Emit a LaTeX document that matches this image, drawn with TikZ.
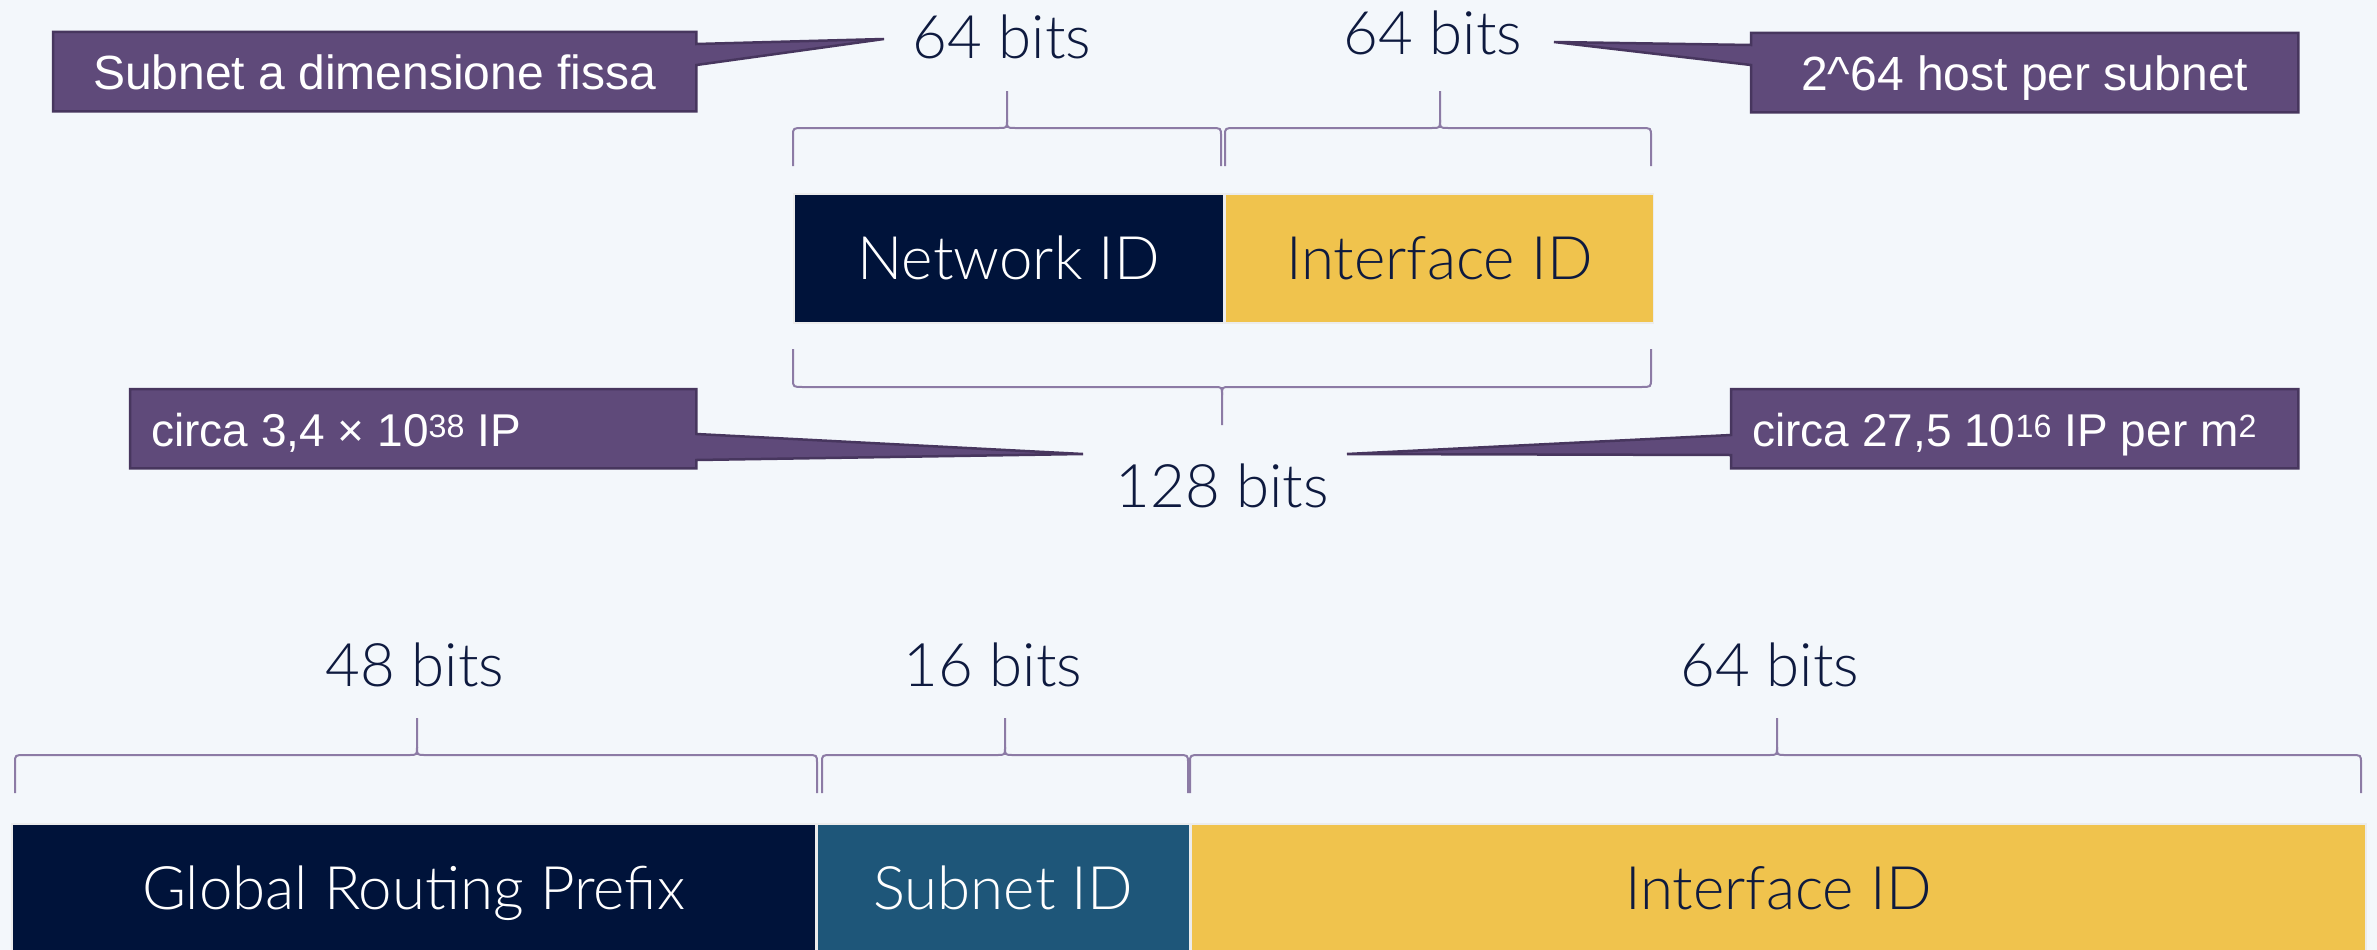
\documentclass[tikz,border=0pt]{standalone}
\usepackage{fontspec}
\setmainfont{Liberation Sans}
\newfontfamily\lightfont{Lato Light}
\usetikzlibrary{backgrounds}
\definecolor{bgc}{HTML}{F3F7FB}
\definecolor{navy}{HTML}{00133A}
\definecolor{gold}{HTML}{F0C34D}
\definecolor{tealc}{HTML}{1E5679}
\definecolor{calfill}{HTML}{5F4A7A}
\definecolor{calline}{HTML}{47365E}
\definecolor{bracec}{HTML}{8C7BA5}
\definecolor{labelc}{HTML}{0E1A3F}
\tikzset{
  bitlabel/.style={anchor=base, font=\lightfont\fontsize{60}{72}\selectfont, text=labelc, inner sep=0pt},
  bar/.style={draw=white!85!gray, line width=1.5pt, minimum height=129pt, inner sep=0pt,
    text height=42pt, text depth=0pt, font=\lightfont\fontsize{60}{72}\selectfont, anchor=north west},
  callbox/.style={inner xsep=0pt, inner ysep=0pt, text=white, font=\fontsize{48}{56}\selectfont,
    text height=35pt, text depth=0pt, minimum height=79pt, anchor=north west},
  callshape/.style={fill=calfill, draw=calline, line width=2.5pt, line join=miter},
  bracestyle/.style={draw=bracec, line width=2pt},
}
% x1, x2, xm, yend, yline, ytip, s
\newcommand{\mybrace}[7]{%
  \draw[bracestyle] ({#1},{#4}) -- ({#1},{#5+#7}) .. controls ({#1},{#5}) .. ({#1+10},{#5}) -- ({#3-8},{#5})
     .. controls ({#3},{#5}) .. ({#3},{#5-#7}) -- ({#3},{#6});
  \draw[bracestyle] ({#2},{#4}) -- ({#2},{#5+#7}) .. controls ({#2},{#5}) .. ({#2-10},{#5}) -- ({#3+8},{#5})
     .. controls ({#3},{#5}) .. ({#3},{#5-#7});
}
\begin{document}
\begin{tikzpicture}[x=1pt,y=-1pt]
\begin{scope}[on background layer]
  \fill[bgc] (0,0) rectangle (2377,950);
\end{scope}
\useasboundingbox (0,0) rectangle (2377,950);

% bit labels
\node[bitlabel] (l64a) at (1002,59) {64 bits};
\node[bitlabel] (l64b) at (1433,55) {64 bits};
\node[bitlabel] (l128) at (1222,507) {128 bits};
\node[bitlabel] (l48) at (415,686) {48 bits};
\node[bitlabel] (l16) at (993,686) {16 bits};
\node[bitlabel] (l64c) at (1770,686) {64 bits};

% top bars
\node[bar, fill=navy, text=white, minimum width=430pt] (net) at (793,193) {Network ID};
\node[bar, fill=gold, text=labelc, minimum width=428pt] (iid) at (net.north east) {Interface ID};

% bottom bars
\node[bar, fill=navy, text=white, minimum width=804pt] (grp) at (11,823) {Global Routing Prefix};
\node[bar, fill=tealc, text=white, minimum width=372pt] (sid) at (grp.north east) {Subnet ID};
\node[bar, fill=gold, text=labelc, minimum width=1175pt] (iid2) at (sid.north east) {Interface ID};

% braces
\mybrace{793}{1221}{1007}{166}{128}{91}{8}
\mybrace{1225}{1651}{1440}{166}{128}{91}{8}
\mybrace{793}{1651}{1222}{349}{387}{425}{-8}
\mybrace{15}{817}{417}{793}{755}{718}{8}
\mybrace{822}{1188}{1005}{793}{755}{718}{8}
\mybrace{1190}{2361}{1777}{793}{755}{718}{8}

% callouts
\node[callbox, minimum width=643pt] (c1) at (53,32) {Subnet a dimensione fissa};
\node[callbox, minimum width=547pt] (c2) at (1751,33) {2\textasciicircum64 host per subnet};
\node[callbox, inner xsep=21pt, font=\fontsize{46}{54}\selectfont] (c3) at (130,389)
   {\makebox[524pt][l]{circa 3,4 × 10\textsuperscript{38} IP}};
\node[callbox, inner xsep=21pt, font=\fontsize{46}{54}\selectfont] (c4) at (1731,389)
   {\makebox[525pt][l]{circa 27,5 10\textsuperscript{16} IP per m\textsuperscript{2}}};

\coordinate (t1) at (884,39);
\coordinate (t2) at (1554,42);
\coordinate (t3) at (1083,454);
\coordinate (t4) at (1347,454);

\begin{scope}[on background layer]
  \path[callshape] (c1.north west) -- (c1.north east) -- (c1.north east |- 0,44) -- (t1)
     -- (c1.north east |- 0,65) -- (c1.south east) -- (c1.south west) -- cycle;
  \path[callshape] (c2.north east) -- (c2.north west) -- (c2.north west |- 0,45) -- (t2)
     -- (c2.north west |- 0,65) -- (c2.south west) -- (c2.south east) -- cycle;
  \path[callshape] (c3.north west) -- (c3.north east) -- (c3.north east |- 0,434) -- (t3)
     -- (c3.north east |- 0,460) -- (c3.south east) -- (c3.south west) -- cycle;
  \path[callshape] (c4.north east) -- (c4.north west) -- (c4.north west |- 0,435) -- (t4)
     -- (c4.north west |- 0,455) -- (c4.south west) -- (c4.south east) -- cycle;
\end{scope}
\end{tikzpicture}
\end{document}
